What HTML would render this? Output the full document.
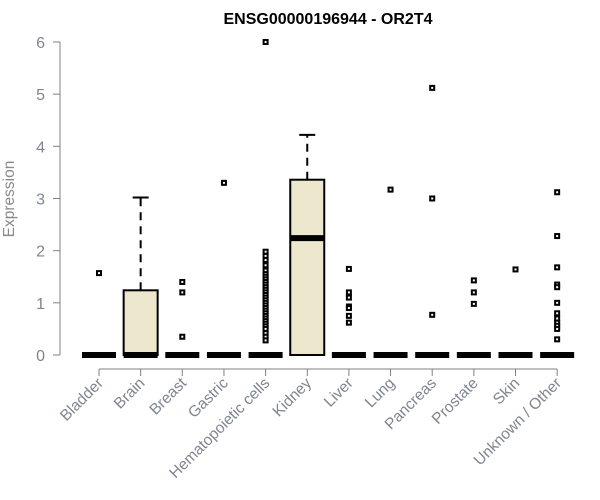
<!DOCTYPE html>
<html><head><meta charset="utf-8"><style>
html,body{margin:0;padding:0;background:#fff}
svg{display:block;font-family:"Liberation Sans",Arial,sans-serif}
</style></head><body>
<svg id="chart" width="600" height="500">
<text x="328" y="24" text-anchor="middle" font-weight="bold" font-size="16" fill="#000">ENSG00000196944 - OR2T4</text>
<text transform="translate(14,199) rotate(-90)" text-anchor="middle" font-size="15.5" fill="#8a8a8a">Expression</text>
<g id="yaxis"></g>
<g id="xaxis"></g>
<g id="plot"></g>
</svg>
<script>
const categories=["Bladder","Brain","Breast","Gastric","Hematopoietic cells","Kidney","Liver","Lung","Pancreas","Prostate","Skin","Unknown / Other"];
const q1=[0,0,0,0,0,0,0,0,0,0,0,0];
const medians=[0,0,0,0,0,2.24,0,0,0,0,0,0];
const q3=[0,1.24,0,0,0,3.36,0,0,0,0,0,0];
const whiskerHigh=[0,3.02,0,0,0,4.22,0,0,0,0,0,0];
const outliers=[
 [1.57],
 [],
 [1.4,1.2,0.35],
 [3.3],
 [6.0,1.98,1.9,1.82,1.72,1.62,1.55,1.5,1.45,1.4,1.35,1.3,1.25,1.2,1.15,1.1,1.05,1.0,0.95,0.9,0.85,0.8,0.75,0.7,0.65,0.6,0.55,0.5,0.42,0.35,0.28],
 [],
 [1.65,1.2,1.1,0.93,0.9,0.75,0.62],
 [3.17],
 [5.12,3.0,0.77],
 [1.43,1.2,0.98],
 [1.64],
 [3.12,2.28,1.68,1.35,1.3,1.0,0.8,0.7,0.62,0.56,0.5,0.3]
];
const yTicks=[0,1,2,3,4,5,6];
const NS="http://www.w3.org/2000/svg";
function y(v){return 355-v*52.17;}
function x(i){return 99+i*41.65;}
function mk(tag,attrs,parent){const e=document.createElementNS(NS,tag);for(const k in attrs)e.setAttribute(k,attrs[k]);parent.appendChild(e);return e;}
const ya=document.getElementById('yaxis'),xa=document.getElementById('xaxis'),pl=document.getElementById('plot');
const axc="#808080";
const yl=mk('line',{x1:60,x2:60,y1:y(yTicks[yTicks.length-1]),y2:y(yTicks[0]),stroke:axc},ya);


yTicks.forEach(t=>{
 const l=mk('line',{x1:53,x2:60,y1:y(t),y2:y(t),stroke:axc},ya);
 
 
 const tx=mk('text',{x:45,y:y(t)+6,'text-anchor':'end','font-size':16,fill:'#7f8590'},ya);
 tx.textContent=t;
 
 
});
const xl=mk('line',{x1:x(0),x2:x(categories.length-1),y1:369,y2:369,stroke:axc},xa);


categories.forEach((c,i)=>{
 const cx=x(i);
 const l=mk('line',{x1:cx,x2:cx,y1:369,y2:376,stroke:axc},xa);
 
 
 const tx=mk('text',{transform:`translate(${cx+5},${384}) rotate(-45)`,'text-anchor':'end','font-size':15.5,fill:'#7f8590'},xa);
 tx.textContent=c;
 
 
 const g=mk('g',{},pl);
 
 
 const hw=17;
 if(whiskerHigh[i]>q3[i]){
  mk('line',{x1:cx,x2:cx,y1:y(q3[i]),y2:y(whiskerHigh[i]),stroke:'#000','stroke-width':2,'stroke-dasharray':'8,6'},g);
  mk('line',{x1:cx-8,x2:cx+8,y1:y(whiskerHigh[i]),y2:y(whiskerHigh[i]),stroke:'#000','stroke-width':2},g);
 }
 if(q3[i]>q1[i]){
  mk('rect',{x:cx-hw,y:y(q3[i]),width:hw*2,height:y(q1[i])-y(q3[i]),fill:'#ede7cd',stroke:'#000','stroke-width':2},g);
 }
 mk('line',{x1:cx-hw,x2:cx+hw,y1:y(medians[i]),y2:y(medians[i]),stroke:'#000','stroke-width':6},g);
 outliers[i].forEach(v=>{
  const r=mk('rect',{x:cx-2,y:y(v)-2,width:4,height:4,fill:'#fff',stroke:'#000','stroke-width':2},g);
  
  
 });
});
</script>
</body></html>
